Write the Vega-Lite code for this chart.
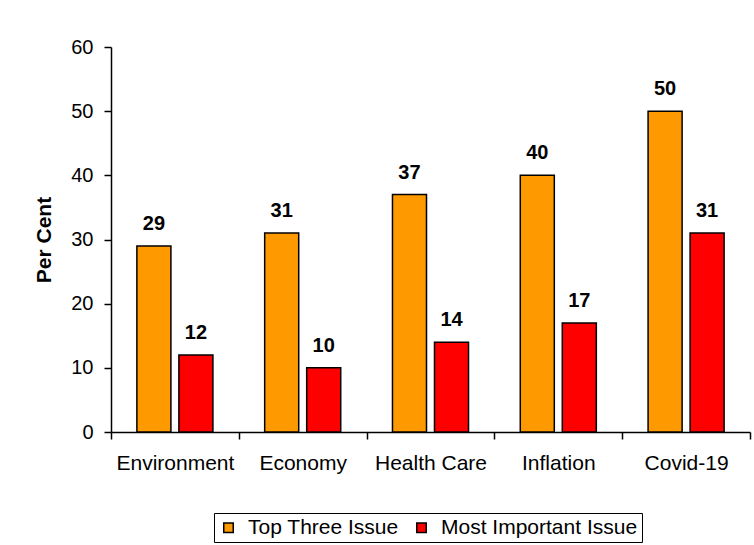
{
  "$schema": "https://vega.github.io/schema/vega-lite/v6.json",
  "width": 639,
  "height": 385,
  "autosize": {"type": "none"},
  "padding": {"left": 111, "top": 47, "right": 4, "bottom": 113},
  "background": "white",
  "config": {
    "view": {"stroke": null},
    "font": "Liberation Sans",
    "axis": {"domainColor": "#000", "tickColor": "#000", "labelColor": "#000", "titleColor": "#000", "grid": false, "labelFont": "Liberation Sans", "titleFont": "Liberation Sans"}
  },
  "data": {
    "values": [
      {"issue": "Environment", "series": "Top Three Issue", "value": 29},
      {"issue": "Environment", "series": "Most Important Issue", "value": 12},
      {"issue": "Economy", "series": "Top Three Issue", "value": 31},
      {"issue": "Economy", "series": "Most Important Issue", "value": 10},
      {"issue": "Health Care", "series": "Top Three Issue", "value": 37},
      {"issue": "Health Care", "series": "Most Important Issue", "value": 14},
      {"issue": "Inflation", "series": "Top Three Issue", "value": 40},
      {"issue": "Inflation", "series": "Most Important Issue", "value": 17},
      {"issue": "Covid-19", "series": "Top Three Issue", "value": 50},
      {"issue": "Covid-19", "series": "Most Important Issue", "value": 31}
    ]
  },
  "encoding": {
    "x": {
      "field": "issue", "type": "nominal", "sort": null,
      "scale": {"paddingInner": 0, "paddingOuter": 0},
      "axis": {"title": null, "labelAngle": 0, "labelFontSize": 21, "tickBand": "extent", "tickSize": 7, "labelPadding": 13, "domainWidth": 1.5, "tickWidth": 1.5}
    },
    "xOffset": {
      "field": "series", "type": "nominal", "sort": ["Top Three Issue", "Most Important Issue"],
      "scale": {"paddingInner": 0.19, "paddingOuter": 0.616}
    },
    "y": {
      "field": "value", "type": "quantitative",
      "scale": {"domain": [0, 60]},
      "axis": {"title": "Per Cent", "values": [0, 10, 20, 30, 40, 50, 60], "labelFontSize": 20, "titleFontSize": 21, "titleFontWeight": "bold", "tickSize": 7, "labelPadding": 11, "titlePadding": 16, "domainWidth": 1.5, "tickWidth": 1.5}
    }
  },
  "layer": [
    {
      "mark": {"type": "bar", "stroke": "#000", "strokeWidth": 1.5},
      "encoding": {
        "color": {
          "field": "series", "type": "nominal",
          "sort": ["Top Three Issue", "Most Important Issue"],
          "scale": {"domain": ["Top Three Issue", "Most Important Issue"], "range": ["#FF9900", "#FF0000"]},
          "legend": {
            "title": null, "orient": "none", "direction": "horizontal",
            "legendX": 103, "legendY": 466,
            "strokeColor": "#000", "padding": 4,
            "symbolType": "square", "symbolSize": 90, "symbolStrokeColor": "#000", "symbolStrokeWidth": 1.5,
            "labelFontSize": 21, "labelColor": "#000", "labelFont": "Liberation Sans", "labelLimit": 400,
            "labelOffset": 9, "columnPadding": 12
          }
        }
      }
    },
    {
      "mark": {"type": "text", "dy": -22, "baseline": "middle", "fontSize": 20, "fontWeight": "bold", "color": "#000"},
      "encoding": {"text": {"field": "value", "type": "quantitative"}}
    }
  ]
}
